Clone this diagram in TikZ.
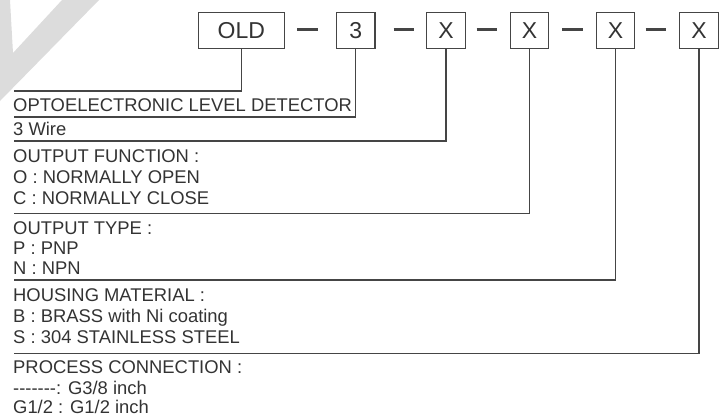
\documentclass[tikz,border=0pt]{standalone}
\usepackage{fontspec}
\setmainfont{Liberation Sans}
\definecolor{ink}{HTML}{333333}
\definecolor{wire}{HTML}{454545}
\definecolor{wmark}{HTML}{DCDCDC}
\begin{document}
\begin{tikzpicture}[x=1pt,y=-1pt,
  codebox/.style={draw=wire,line width=1.2pt,minimum height=36pt,inner sep=0pt,
    text=ink,font=\fontsize{23}{26}\selectfont},
  xbox/.style={codebox,minimum width=38.5pt},
  sepbar/.style={draw=wire,line width=2.7pt},
  lead/.style={draw=wire,line width=1.3pt},
  lbl/.style={anchor=base west,inner sep=0pt,text=ink,font=\fontsize{18.4}{20}\selectfont}]
\useasboundingbox (0,0) rectangle (725,416);
% watermark fragment
\fill[wmark] (0,0) -- (10,0) -- (13,53) -- (62,0) -- (99,0) -- (0,101) -- cycle;
% code boxes
\node[codebox,minimum width=86pt] (old) at (241.3,30.3) {OLD};
\node[xbox] (b3) at (355.8,30.3) {3};
\node[xbox] (x1) at (446,30.3) {X};
\node[xbox] (x2) at (529.5,30.3) {X};
\node[xbox] (x3) at (615.5,30.3) {X};
\node[xbox] (x4) at (699,30.3) {X};
% separators
\draw[sepbar] (297.3,29.5) -- (318.3,29.5);
\draw[sepbar] (393.5,29.5) -- (414,29.5);
\draw[sepbar] (476.7,29.5) -- (497.3,29.5);
\draw[sepbar] (562,29.5) -- (582.5,29.5);
\draw[sepbar] (645.6,29.5) -- (666.2,29.5);
% lead ends
\coordinate (e0) at (14,91);
\coordinate (e1) at (14,117);
\coordinate (e2) at (14,141);
\coordinate (e3) at (14,213.5);
\coordinate (e4) at (14,280);
\coordinate (e5) at (14,353.5);
\draw[lead] (old.south) |- (e0);
\draw[lead] (b3.south) |- (e1);
\draw[lead] (x1.south) |- (e2);
\draw[lead] (x2.south) |- (e3);
\draw[lead] (x3.south) |- (e4);
\draw[lead] (x4.south) |- (e5);
% labels
\node[lbl] (t1) at (13,111) {OPTOELECTRONIC LEVEL DETECTOR};
\node[lbl] (t2) at (13,135) {3 Wire};
\node[lbl] (t3) at (13,162) {OUTPUT FUNCTION :};
\node[lbl] (t4) at (13,183) {O : NORMALLY OPEN};
\node[lbl] (t5) at (13,204) {C : NORMALLY CLOSE};
\node[lbl] (t6) at (13,234) {OUTPUT TYPE :};
\node[lbl] (t7) at (13,254) {P : PNP};
\node[lbl] (t8) at (13,274) {N : NPN};
\node[lbl] (t9) at (13,301) {HOUSING MATERIAL :};
\node[lbl] (t10) at (13,322) {B : BRASS with Ni coating};
\node[lbl] (t11) at (13,343) {S : 304 STAINLESS STEEL};
\node[lbl] (t12) at (13,373) {PROCESS CONNECTION :};
\node[lbl] (t13) at (13,394) {-{}-{}-{}-{}-{}-{}-: G3/8 inch};
\node[lbl] (t14) at (13,413.5) {G1/2 : G1/2 inch};
\end{tikzpicture}
\end{document}
